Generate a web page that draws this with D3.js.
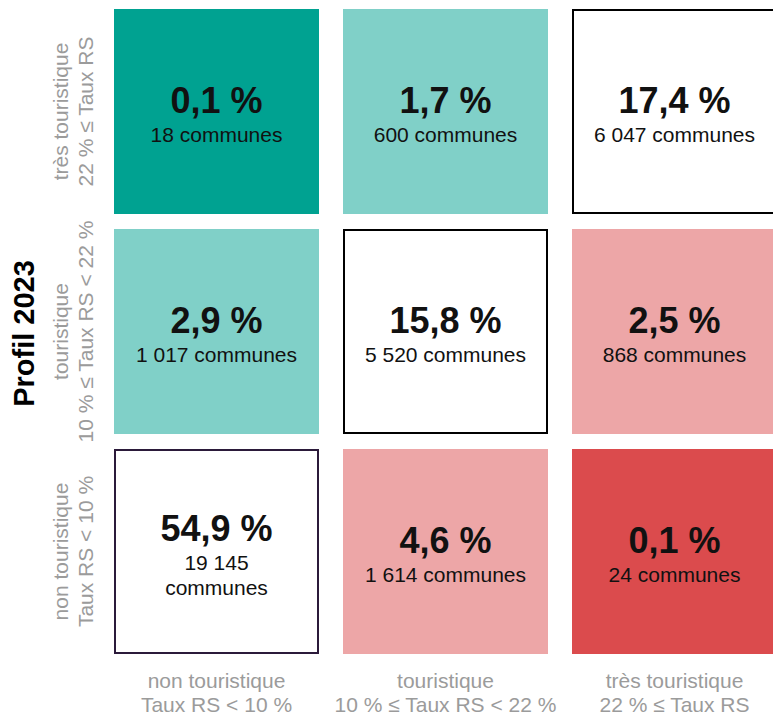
<!DOCTYPE html>
<html>
<head>
<meta charset="utf-8">
<script src="https://cdn.jsdelivr.net/npm/d3@7"></script>
<style>
  body { margin: 0; background: #fff; }
  svg { display: block; font-family: "Liberation Sans", Arial, sans-serif; }
</style>
</head>
<body>
<script>
// profil avant (colonnes) / profil 2023 (lignes)
const profiles = ['non touristique', 'touristique', 'très touristique'];
const thresholds = ['Taux RS < 10 %', '10 % ≤ Taux RS < 22 %', '22 % ≤ Taux RS'];

// one entry per cell: column profile, row profile (2023)
const cellCol = [0, 1, 2, 0, 1, 2, 0, 1, 2];
const cellRow = [2, 2, 2, 1, 1, 1, 0, 0, 0];
const cellPct = ['0,1 %', '1,7 %', '17,4 %', '2,9 %', '15,8 %', '2,5 %', '54,9 %', '4,6 %', '0,1 %'];
const cellCount = [['18 communes'], ['600 communes'], ['6 047 communes'],
                   ['1 017 communes'], ['5 520 communes'], ['868 communes'],
                   ['19 145', 'communes'], ['1 614 communes'], ['24 communes']];

const width = 773, height = 717;

const option =
{
  label: { color: '#9b9b9b', size: 21 },
  pct: { size: 36 },
  count: { size: 21, line: 25 },
  ink: '#111111'
};

const cells = cellCol.map((c, i) => ({ col: c, row: cellRow[i], pct: cellPct[i], count: cellCount[i] }));

const svg = d3.select('body').append('svg')
  .attr('width', width)
  .attr('height', height);

const x = d3.scaleBand()
  .domain(d3.range(3))
  .range([114, 777])
  .paddingInner(24 / 229)
  .paddingOuter(0);

// top row = très touristique
const y = d3.scaleBand()
  .domain([2, 1, 0])
  .range([9, 654])
  .paddingInner(15 / 220)
  .paddingOuter(0);

const fill = d3.scaleOrdinal()
  .domain([2, 1, 0, -1, -2])
  .range(['#00a291', '#80d0c8', '#ffffff', '#eda6a7', '#db4b4d']);

const g = svg.append('g');

const tile = g.selectAll('g.tile')
  .data(cells)
  .join('g')
  .attr('class', 'tile')
  .attr('transform', d => `translate( ${ x(d.col) } ${ y(d.row) } )`);

tile.append('rect')
  .attr('x', d => d.row === d.col ? 1 : 0)
  .attr('y', d => d.row === d.col ? 1 : 0)
  .attr('width', d => x.bandwidth() - (d.row === d.col ? 2 : 0))
  .attr('height', d => y.bandwidth() - (d.row === d.col ? 2 : 0))
  .attr('fill', d => fill(d.row - d.col))
  .attr('stroke', d => d.row === d.col ? (d.row === 0 ? '#2b1a3a' : '#000') : 'none')
  .attr('stroke-width', 2);

tile.each(function (d)
{
  const t = d3.select(this);
  const cx = x.bandwidth() / 2;
  const cy = y.bandwidth() / 2;
  const shift = (d.count.length - 1) * option.count.line / 2;

  t.append('text')
    .text(d.pct)
    .attr('x', cx)
    .attr('y', cy + 1.5 - shift)
    .attr('text-anchor', 'middle')
    .attr('font-size', option.pct.size)
    .attr('font-weight', 'bold')
    .attr('fill', option.ink);

  t.selectAll('text.count')
    .data(d.count)
    .join('text')
    .attr('class', 'count')
    .text(s => s)
    .attr('x', cx)
    .attr('y', (s, i) => cy + 30.5 - shift + i * option.count.line)
    .attr('text-anchor', 'middle')
    .attr('font-size', option.count.size)
    .attr('fill', option.ink);
});

// x axis labels
const xl = svg.append('g').selectAll('g')
  .data(d3.range(3))
  .join('g')
  .attr('transform', d => `translate( ${ x(d) + x.bandwidth() / 2 } 0 )`);

xl.append('text').text(d => profiles[d])
  .attr('y', 688);
xl.append('text').text(d => thresholds[d])
  .attr('y', 712);
xl.selectAll('text')
  .attr('text-anchor', 'middle')
  .attr('font-size', option.label.size)
  .attr('fill', option.label.color);

// y axis labels
const yl = svg.append('g').selectAll('g')
  .data(d3.range(3))
  .join('g')
  .attr('transform', d => `translate( 0 ${ y(d) + y.bandwidth() / 2 } ) rotate(-90)`);

yl.append('text').text(d => profiles[d])
  .attr('y', 68);
yl.append('text').text(d => thresholds[d])
  .attr('y', 93);
yl.selectAll('text')
  .attr('text-anchor', 'middle')
  .attr('font-size', option.label.size)
  .attr('fill', option.label.color);

svg.append('text')
  .text('Profil 2023')
  .attr('transform', `translate( 34 ${ y(1) + y.bandwidth() / 2 + 2 } ) rotate(-90)`)
  .attr('text-anchor', 'middle')
  .attr('font-size', 29)
  .attr('font-weight', 'bold')
  .attr('fill', '#000');
</script>
</body>
</html>
